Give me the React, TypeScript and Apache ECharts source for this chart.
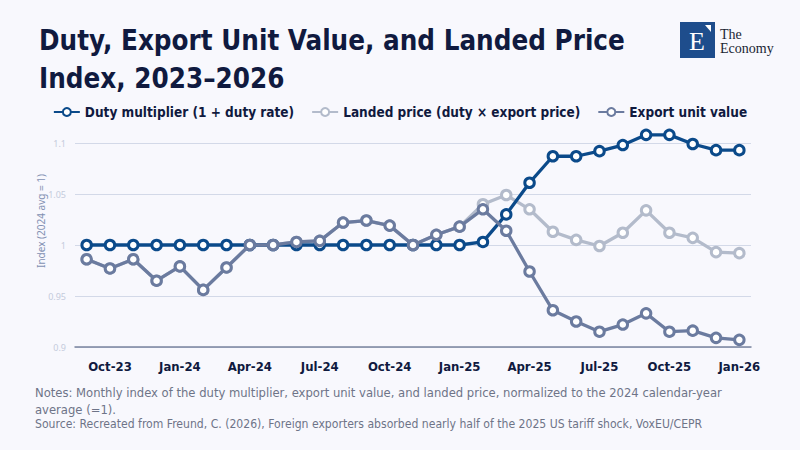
import React, { useEffect, useRef } from "react";
import * as echarts from "echarts";

const months = [
  "Sep-23", "Oct-23", "Nov-23", "Dec-23",
  "Jan-24", "Feb-24", "Mar-24", "Apr-24", "May-24", "Jun-24", "Jul-24", "Aug-24", "Sep-24", "Oct-24", "Nov-24", "Dec-24",
  "Jan-25", "Feb-25", "Mar-25", "Apr-25", "May-25", "Jun-25", "Jul-25", "Aug-25", "Sep-25", "Oct-25", "Nov-25", "Dec-25",
  "Jan-26",
];

const dutyMultiplier = [
  1.0, 1.0, 1.0, 1.0,
  1.0, 1.0, 1.0, 1.0, 1.0, 1.0, 1.0, 1.0, 1.0, 1.0, 1.0, 1.0,
  1.0, 1.003, 1.03, 1.061, 1.087, 1.087, 1.092, 1.098, 1.108, 1.108, 1.099, 1.093,
  1.093,
];

const landedPrice = [
  0.986, 0.977, 0.986, 0.965,
  0.979, 0.956, 0.978, 1.0, 1.0, 1.003, 1.004, 1.022, 1.024, 1.019, 1.0, 1.01,
  1.018, 1.04, 1.049, 1.035, 1.013, 1.005, 0.999, 1.012, 1.034, 1.012, 1.007, 0.993,
  0.992,
];

const exportUnitValue = [
  0.986, 0.977, 0.986, 0.965,
  0.979, 0.956, 0.978, 1.0, 1.0, 1.003, 1.004, 1.022, 1.024, 1.019, 1.0, 1.01,
  1.018, 1.035, 1.014, 0.974, 0.936, 0.925, 0.915, 0.922, 0.933, 0.915, 0.916, 0.909,
  0.907,
];

const seriesNames = [
  "Duty multiplier (1 + duty rate)",
  "Landed price (duty × export price)",
  "Export unit value",
];

const titleLines = ["Duty, Export Unit Value, and Landed Price", "Index, 2023–2026"];
const noteLines = [
  "Notes: Monthly index of the duty multiplier, export unit value, and landed price, normalized to the 2024 calendar-year",
  "average (=1).",
];
const sourceLine =
  "Source: Recreated from Freund, C. (2026), Foreign exporters absorbed nearly half of the 2025 US tariff shock, VoxEU/CEPR";

const FONT = "'DejaVu Sans Condensed', 'DejaVu Sans', sans-serif";
const NAVY = "#101a3f";
const colors = ["#0b4a8a", "#b3bbcb", "#6b7b9f"];

export default function App() {
  const ref = useRef<HTMLDivElement>(null);

  useEffect(() => {
    if (!ref.current) return;
    const chart = echarts.init(ref.current, undefined, { renderer: "svg" });

    const mkSeries = (name: string, data: number[], color: string, z: number) => ({
      name,
      type: "line",
      data,
      z,
      color,
      clip: false,
      symbol: "circle",
      symbolSize: 9.5,
      lineStyle: { color, width: 3.3 },
      itemStyle: { color: "#ffffff", borderColor: color, borderWidth: 3 },
    });

    chart.setOption({
      animation: false,
      backgroundColor: "#f8f8fd",
      title: {
        text: titleLines.join("\n"),
        left: 34,
        top: 16,
        textStyle: {
          fontFamily: FONT,
          fontSize: 27.5,
          fontWeight: "bold",
          color: NAVY,
          lineHeight: 38,
        },
      },
      legend: {
        top: 100,
        left: "center",
        itemWidth: 26,
        itemHeight: 10,
        itemGap: 17,
        textStyle: { fontFamily: FONT, fontSize: 13.5, fontWeight: "bold", color: NAVY },
        data: seriesNames,
      },
      grid: { left: 75, right: 49, top: 143, bottom: 103, containLabel: false },
      xAxis: {
        type: "category",
        data: months,
        boundaryGap: true,
        axisLine: { show: true, lineStyle: { color: "#7a849e", width: 1.5 } },
        axisTick: { show: false },
        axisLabel: {
          interval: (idx: number) => idx % 3 === 1,
          fontFamily: FONT,
          fontSize: 13,
          fontWeight: "bold",
          color: NAVY,
          margin: 13,
        },
      },
      yAxis: {
        type: "value",
        min: 0.9,
        max: 1.1,
        interval: 0.05,
        axisLine: { show: false },
        axisTick: { show: false },
        splitLine: { lineStyle: { color: "#d3d9e8", width: 1 } },
        axisLabel: {
          fontFamily: "'Noto Sans', sans-serif",
          fontSize: 9,
          color: "#c4cbdc",
          margin: 9,
          formatter: (v: number) => String(Math.round(v * 100) / 100),
        },
      },
      series: [
        mkSeries(seriesNames[0], dutyMultiplier, colors[0], 2),
        mkSeries(seriesNames[1], landedPrice, colors[1], 1),
        mkSeries(seriesNames[2], exportUnitValue, colors[2], 3),
      ],
      graphic: [
        {
          type: "text",
          x: 41,
          y: 221,
          rotation: Math.PI / 2,
          style: {
            text: "Index (2024 avg = 1)",
            fontFamily: "'Noto Sans', sans-serif",
            fontSize: 10,
            fill: "#8391b3",
            align: "center",
            verticalAlign: "middle",
          },
        },
        {
          type: "text",
          x: 35,
          y: 384,
          style: {
            text: noteLines.join("\n"),
            fontFamily: FONT,
            fontSize: 12.9,
            lineHeight: 17,
            fill: "#6e7488",
          },
        },
        {
          type: "text",
          x: 35,
          y: 418,
          style: {
            text: sourceLine,
            fontFamily: FONT,
            fontSize: 12.1,
            fill: "#6e7488",
          },
        },
        {
          type: "rect",
          shape: { x: 680, y: 22, width: 35, height: 36 },
          style: { fill: "#1e4d8c" },
        },
        {
          type: "text",
          x: 697,
          y: 41,
          style: {
            text: "E",
            fontFamily: "'Liberation Serif', 'DejaVu Serif', serif",
            fontSize: 26,
            fill: "#ffffff",
            align: "center",
            verticalAlign: "middle",
          },
        },
        {
          type: "polygon",
          shape: { points: [[705, 25], [711, 25], [711, 32]] },
          style: { fill: "#ffffff" },
        },
        {
          type: "text",
          x: 720,
          y: 27,
          style: {
            text: "The\nEconomy",
            fontFamily: "'Liberation Serif', 'DejaVu Serif', serif",
            fontSize: 14,
            lineHeight: 14,
            fill: "#1a1f33",
          },
        },
      ],
    });

    return () => chart.dispose();
  }, []);

  return (
    <div
      ref={ref}
      style={{ position: "absolute", left: 0, top: 0, width: 800, height: 450 }}
    />
  );
}
